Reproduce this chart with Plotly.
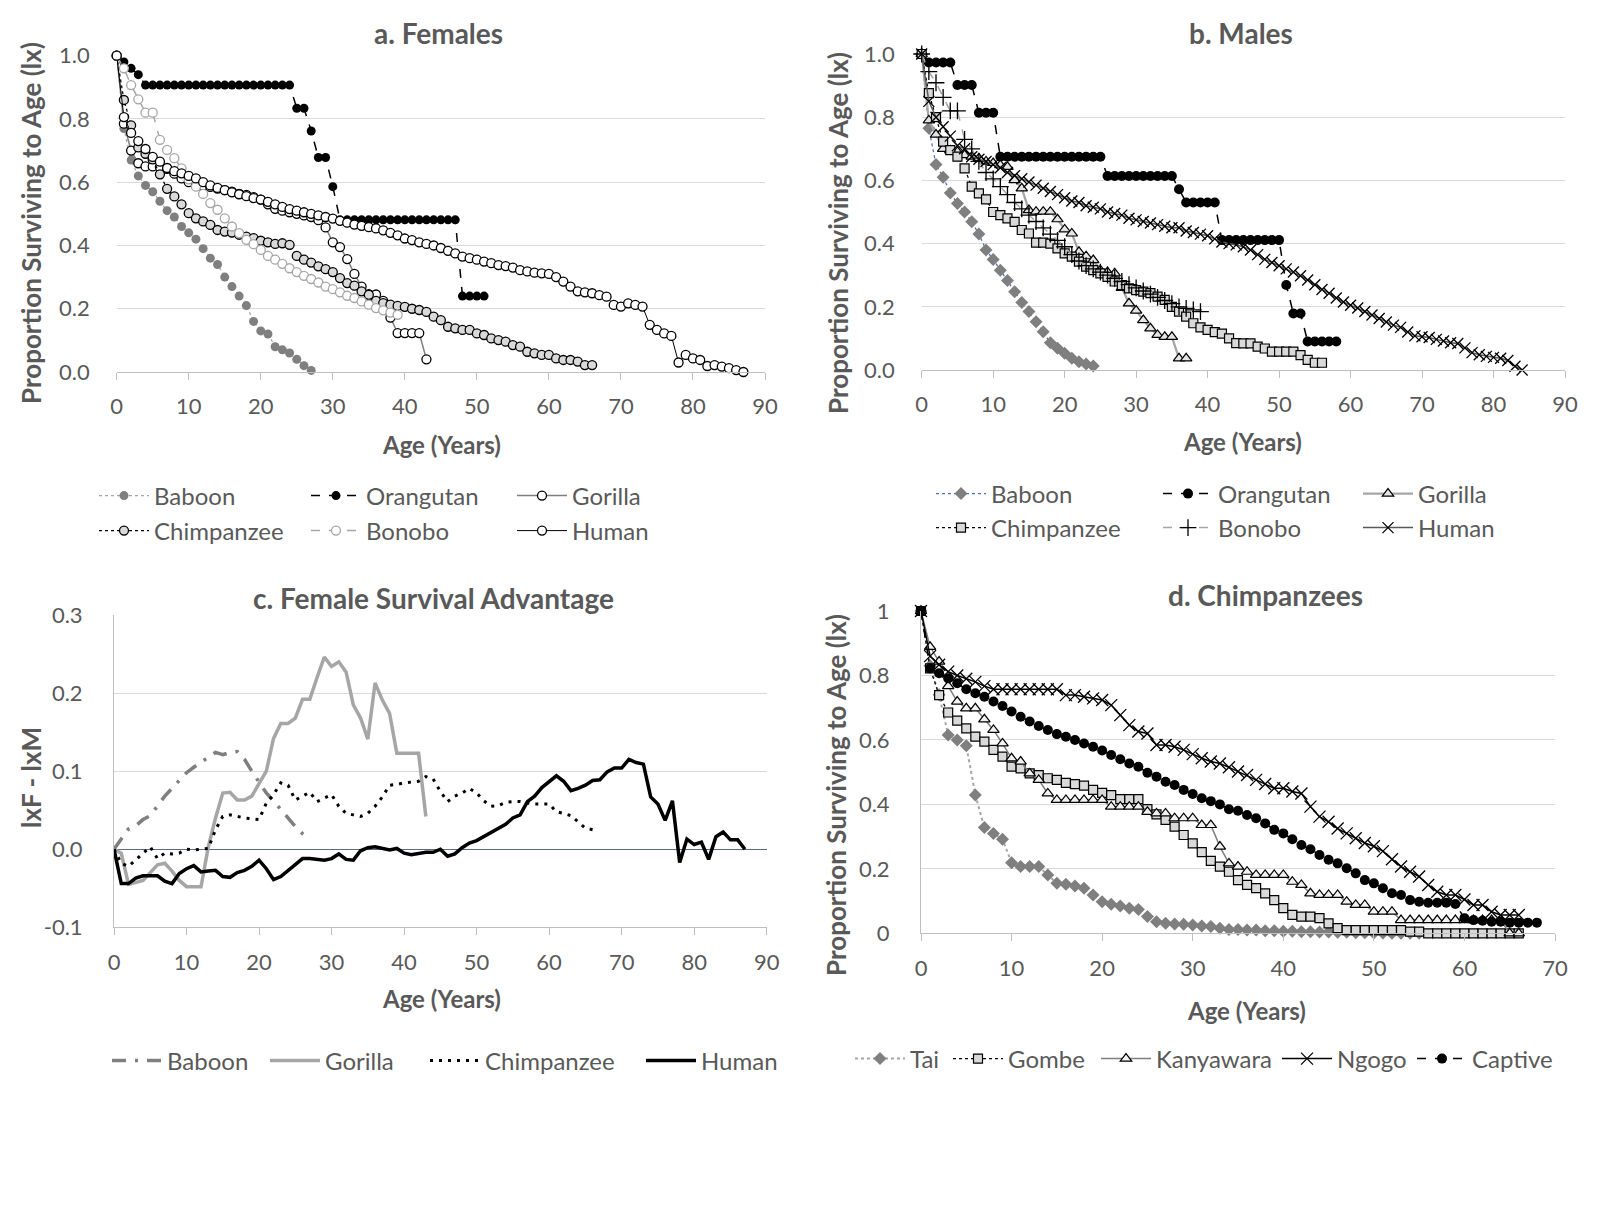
import plotly.graph_objects as go

PAGE_W, PAGE_H = 1599, 1224
BODY = 8                     # default page body margin of the html page
W, H = PAGE_W - 2 * BODY, PAGE_H - 2 * BODY
FONT = "Lato"
TXT = "#595959"

# ---------------- data ----------------
# a. Females  (age = index, years)
f_baboon = [1.0, 0.77, 0.67, 0.62, 0.59, 0.57, 0.54, 0.51, 0.49, 0.46,
            0.44, 0.42, 0.39, 0.36, 0.34, 0.30, 0.27, 0.24, 0.21, 0.16,
            0.13, 0.12, 0.08, 0.07, 0.06, 0.04, 0.02, 0.005]
f_orangutan = [1.0, 0.98, 0.96, 0.94, 0.907, 0.907, 0.907, 0.907, 0.907, 0.907,
               0.907, 0.907, 0.907, 0.907, 0.907, 0.907, 0.907, 0.907, 0.907, 0.907,
               0.907, 0.907, 0.907, 0.907, 0.907, 0.834, 0.834, 0.762, 0.678, 0.678,
               0.586, 0.481, 0.481, 0.481, 0.481, 0.481, 0.481, 0.481, 0.481, 0.481,
               0.481, 0.481, 0.481, 0.481, 0.481, 0.481, 0.481, 0.481, 0.24, 0.24,
               0.24, 0.24]
f_gorilla = [1.0, 0.785, 0.70, 0.66, 0.65, 0.65, 0.648, 0.642, 0.627, 0.612,
             0.60, 0.595, 0.59, 0.585, 0.58, 0.575, 0.57, 0.563, 0.56, 0.553,
             0.545, 0.53, 0.516, 0.51, 0.505, 0.50, 0.495, 0.49, 0.48, 0.457,
             0.41, 0.395, 0.357, 0.31, 0.27, 0.246, 0.245, 0.225, 0.172, 0.123,
             0.123, 0.123, 0.123, 0.04]
f_chimp = [1.0, 0.86, 0.78, 0.71, 0.69, 0.672, 0.625, 0.579, 0.555, 0.53,
           0.502, 0.486, 0.476, 0.465, 0.449, 0.444, 0.441, 0.434, 0.428, 0.423,
           0.415, 0.41, 0.405, 0.407, 0.402, 0.367, 0.355, 0.346, 0.334, 0.325,
           0.316, 0.297, 0.281, 0.273, 0.255, 0.244, 0.225, 0.218, 0.213, 0.209,
           0.206, 0.2, 0.196, 0.19, 0.175, 0.164, 0.143, 0.138, 0.133, 0.133,
           0.122, 0.117, 0.106, 0.101, 0.096, 0.085, 0.08, 0.064, 0.059, 0.054,
           0.054, 0.043, 0.038, 0.038, 0.033, 0.022, 0.022]
f_bonobo = [1.0, 0.96, 0.907, 0.862, 0.82, 0.82, 0.734, 0.702, 0.676, 0.644,
            0.609, 0.586, 0.563, 0.534, 0.513, 0.486, 0.46, 0.439, 0.418, 0.404,
            0.386, 0.367, 0.355, 0.342, 0.328, 0.316, 0.304, 0.294, 0.283, 0.27,
            0.262, 0.252, 0.241, 0.234, 0.223, 0.213, 0.202, 0.195, 0.188, 0.181]
f_human = [1.0, 0.806, 0.756, 0.73, 0.705, 0.68, 0.665, 0.645, 0.635, 0.628,
           0.62, 0.612, 0.60, 0.59, 0.582, 0.575, 0.568, 0.562, 0.556, 0.55,
           0.545, 0.538, 0.53, 0.522, 0.515, 0.51, 0.505, 0.50, 0.495, 0.49,
           0.485, 0.478, 0.472, 0.466, 0.462, 0.458, 0.454, 0.448, 0.44, 0.432,
           0.422, 0.417, 0.41, 0.405, 0.40, 0.392, 0.383, 0.375, 0.365, 0.36,
           0.355, 0.349, 0.344, 0.338, 0.335, 0.33, 0.322, 0.318, 0.314, 0.312,
           0.31, 0.30, 0.286, 0.27, 0.255, 0.252, 0.249, 0.243, 0.238, 0.212,
           0.207, 0.217, 0.212, 0.207, 0.149, 0.133, 0.122, 0.114, 0.03, 0.054,
           0.043, 0.038, 0.019, 0.022, 0.017, 0.012, 0.006, 0.0]

# b. Males
m_baboon = [1.0, 0.765, 0.65, 0.61, 0.56, 0.527, 0.50, 0.469, 0.43, 0.38,
            0.35, 0.316, 0.283, 0.248, 0.214, 0.185, 0.153, 0.121, 0.086, 0.069,
            0.053, 0.037, 0.026, 0.019, 0.013]
m_orangutan = [1.0, 0.973, 0.973, 0.973, 0.973, 0.902, 0.902, 0.902, 0.814, 0.814,
               0.814, 0.675, 0.675, 0.675, 0.675, 0.675, 0.675, 0.675, 0.675, 0.675,
               0.675, 0.675, 0.675, 0.675, 0.675, 0.675, 0.614, 0.614, 0.614, 0.614,
               0.614, 0.614, 0.614, 0.614, 0.614, 0.614, 0.572, 0.53, 0.53, 0.53,
               0.53, 0.53, 0.411, 0.411, 0.411, 0.411, 0.411, 0.411, 0.411, 0.411,
               0.411, 0.269, 0.179, 0.179, 0.09, 0.09, 0.09, 0.09, 0.09]
m_gorilla = [1.0, 0.79, 0.745, 0.70, 0.695, 0.69, 0.68, 0.675, 0.67, 0.66,
             0.655, 0.648, 0.643, 0.601, 0.575, 0.506, 0.501, 0.501, 0.501, 0.477,
             0.445, 0.432, 0.374, 0.36, 0.348, 0.316, 0.31, 0.306, 0.26, 0.211,
             0.188, 0.158, 0.132, 0.111, 0.105, 0.105, 0.037, 0.037]
m_chimp = [1.0, 0.876, 0.80, 0.723, 0.696, 0.675, 0.638, 0.58, 0.559, 0.54,
           0.50, 0.49, 0.48, 0.469, 0.443, 0.432, 0.403, 0.403, 0.40, 0.385,
           0.369, 0.359, 0.343, 0.327, 0.316, 0.306, 0.295, 0.28, 0.269, 0.258,
           0.253, 0.248, 0.243, 0.232, 0.222, 0.20, 0.185, 0.169, 0.148, 0.135,
           0.127, 0.12, 0.115, 0.10, 0.085, 0.084, 0.084, 0.074, 0.068, 0.058,
           0.058, 0.058, 0.058, 0.047, 0.032, 0.023, 0.023]
m_bonobo = [1.0, 0.944, 0.909, 0.863, 0.82, 0.82, 0.73, 0.70, 0.66, 0.625,
            0.605, 0.58, 0.555, 0.53, 0.51, 0.49, 0.47, 0.45, 0.43, 0.41,
            0.39, 0.365, 0.345, 0.33, 0.32, 0.31, 0.30, 0.29, 0.28, 0.27,
            0.26, 0.25, 0.24, 0.23, 0.22, 0.21, 0.20, 0.195, 0.19, 0.185]
m_human = [1.0, 0.85, 0.80, 0.77, 0.74, 0.71, 0.70, 0.675, 0.667, 0.66,
           0.65, 0.64, 0.625, 0.615, 0.605, 0.595, 0.585, 0.575, 0.565, 0.555,
           0.545, 0.535, 0.53, 0.52, 0.515, 0.51, 0.50, 0.495, 0.49, 0.48,
           0.475, 0.47, 0.465, 0.46, 0.455, 0.45, 0.45, 0.44, 0.435, 0.43,
           0.425, 0.415, 0.405, 0.40, 0.396, 0.39, 0.38, 0.365, 0.35, 0.34,
           0.33, 0.32, 0.31, 0.298, 0.285, 0.27, 0.255, 0.243, 0.228, 0.215,
           0.205, 0.196, 0.185, 0.174, 0.163, 0.152, 0.142, 0.135, 0.12, 0.108,
           0.105, 0.103, 0.097, 0.092, 0.086, 0.084, 0.07, 0.055, 0.048, 0.043,
           0.04, 0.037, 0.03, 0.012, 0.0]

# c. Female survival advantage (lxF - lxM)
d_baboon = [0.0, 0.013, 0.026, 0.03, 0.038, 0.043, 0.055, 0.068, 0.078, 0.088,
            0.098, 0.105, 0.111, 0.118, 0.124, 0.121, 0.124, 0.125, 0.115, 0.100,
            0.085, 0.072, 0.062, 0.051, 0.04, 0.029, 0.02, 0.014]
d_gorilla = [0.0, -0.005, -0.045, -0.043, -0.04, -0.03, -0.02, -0.018, -0.028, -0.04,
             -0.048, -0.048, -0.048, 0.003, 0.04, 0.072, 0.073, 0.063, 0.063, 0.068,
             0.085, 0.10, 0.142, 0.161, 0.161, 0.168, 0.192, 0.192, 0.22, 0.246,
             0.234, 0.24, 0.227, 0.185, 0.168, 0.141, 0.213, 0.191, 0.174, 0.123,
             0.123, 0.123, 0.123, 0.042]
d_chimp = [0.0, -0.018, -0.022, -0.014, -0.005, 0.003, -0.012, -0.005, -0.006, -0.005,
           0.0, -0.001, 0.0, 0.001, 0.025, 0.042, 0.044, 0.042, 0.04, 0.039,
           0.038, 0.059, 0.07, 0.085, 0.082, 0.063, 0.068, 0.073, 0.061, 0.065,
           0.07, 0.055, 0.046, 0.044, 0.042, 0.046, 0.055, 0.067, 0.082, 0.083,
           0.085, 0.086, 0.087, 0.093, 0.09, 0.074, 0.061, 0.068, 0.072, 0.078,
           0.072, 0.062, 0.055, 0.056, 0.06, 0.061, 0.061, 0.059, 0.058, 0.058,
           0.058, 0.048, 0.046, 0.043, 0.035, 0.027, 0.025]
d_human = [0.0, -0.044, -0.044, -0.037, -0.034, -0.034, -0.034, -0.041, -0.044, -0.031,
           -0.025, -0.021, -0.029, -0.028, -0.027, -0.035, -0.036, -0.030, -0.027, -0.022,
           -0.014, -0.025, -0.039, -0.035, -0.027, -0.02, -0.012, -0.012, -0.013, -0.014,
           -0.012, -0.006, -0.013, -0.014, -0.002, 0.002, 0.003, 0.001, -0.001, 0.001,
           -0.005, -0.007, -0.005, -0.004, -0.004, 0.0, -0.009, -0.006, 0.002, 0.008,
           0.011, 0.016, 0.021, 0.027, 0.032, 0.04, 0.044, 0.061, 0.068, 0.079,
           0.087, 0.094, 0.087, 0.075, 0.078, 0.082, 0.088, 0.089, 0.099, 0.104,
           0.104, 0.115, 0.111, 0.109, 0.067, 0.058, 0.037, 0.062, -0.017, 0.013,
           0.006, 0.009, -0.013, 0.016, 0.022, 0.012, 0.012, 0.0]

# d. Chimpanzee populations
c_tai = [1.0, 0.83, 0.74, 0.615, 0.60, 0.582, 0.429, 0.328, 0.31, 0.292,
         0.219, 0.207, 0.207, 0.207, 0.181, 0.155, 0.152, 0.147, 0.14, 0.119,
         0.098, 0.09, 0.085, 0.078, 0.074, 0.052, 0.036, 0.031, 0.029, 0.028,
         0.026, 0.023, 0.021, 0.016, 0.012, 0.012, 0.01, 0.01, 0.008, 0.008,
         0.006, 0.006, 0.005, 0.005, 0.004, 0.004, 0.003, 0.003, 0.002, 0.002,
         0.001, 0.001, 0.0, 0.0, 0.0, 0.0]
c_gombe = [1.0, 0.822, 0.739, 0.685, 0.66, 0.636, 0.61, 0.595, 0.569, 0.548,
           0.517, 0.512, 0.496, 0.491, 0.481, 0.476, 0.467, 0.463, 0.458, 0.445,
           0.436, 0.429, 0.416, 0.416, 0.416, 0.385, 0.369, 0.352, 0.331, 0.305,
           0.279, 0.252, 0.225, 0.207, 0.191, 0.165, 0.15, 0.14, 0.124, 0.103,
           0.078, 0.057, 0.052, 0.052, 0.047, 0.031, 0.016, 0.01, 0.01, 0.01,
           0.01, 0.01, 0.01, 0.01, 0.005, 0.005, 0.0, 0.0, 0.0, 0.0,
           0.0, 0.0, 0.0, 0.0, 0.0, 0.0, 0.0]
c_kanyawara = [1.0, 0.889, 0.843, 0.767, 0.719, 0.698, 0.698, 0.664, 0.631, 0.589,
               0.543, 0.533, 0.496, 0.476, 0.434, 0.414, 0.414, 0.414, 0.414, 0.414,
               0.414, 0.393, 0.393, 0.393, 0.393, 0.377, 0.372, 0.372, 0.357, 0.357,
               0.357, 0.336, 0.336, 0.269, 0.217, 0.207, 0.191, 0.181, 0.181, 0.181,
               0.181, 0.16, 0.15, 0.124, 0.119, 0.119, 0.119, 0.098, 0.088, 0.088,
               0.067, 0.067, 0.067, 0.041, 0.041, 0.041, 0.041, 0.041, 0.041, 0.041,
               0.041, 0.041, 0.041, 0.041, 0.041, 0.0, 0.0]
c_ngogo = [1.0, 0.86, 0.833, 0.812, 0.80, 0.79, 0.78, 0.767, 0.757, 0.757,
           0.757, 0.757, 0.757, 0.757, 0.757, 0.757, 0.739, 0.739, 0.734, 0.729,
           0.724, 0.708, 0.677, 0.646, 0.626, 0.62, 0.584, 0.584, 0.579, 0.569,
           0.556, 0.543, 0.533, 0.527, 0.515, 0.502, 0.491, 0.476, 0.463, 0.45,
           0.45, 0.44, 0.434, 0.393, 0.362, 0.346, 0.325, 0.31, 0.295, 0.28,
           0.27, 0.255, 0.23, 0.207, 0.191, 0.176, 0.15, 0.129, 0.119, 0.119,
           0.105, 0.088, 0.088, 0.067, 0.057, 0.057, 0.057]
c_captive = [1.0, 0.822, 0.807, 0.791, 0.776, 0.757, 0.745, 0.734, 0.719, 0.705,
             0.688, 0.672, 0.657, 0.643, 0.631, 0.618, 0.61, 0.60, 0.589, 0.579,
             0.567, 0.553, 0.54, 0.527, 0.517, 0.498, 0.486, 0.47, 0.46, 0.445,
             0.432, 0.419, 0.41, 0.40, 0.385, 0.38, 0.367, 0.357, 0.341, 0.321,
             0.31, 0.292, 0.274, 0.261, 0.243, 0.228, 0.217, 0.202, 0.186, 0.165,
             0.155, 0.14, 0.124, 0.119, 0.103, 0.098, 0.095, 0.095, 0.095, 0.091,
             0.047, 0.041, 0.039, 0.036, 0.036, 0.033, 0.033, 0.033, 0.033]

# tick labels
surv_ticks = [0, 0.2, 0.4, 0.6, 0.8, 1.0]
surv_labels_ab = ["0.0", "0.2", "0.4", "0.6", "0.8", "1.0"]
surv_labels_d = ["0", "0.2", "0.4", "0.6", "0.8", "1"]
adv_ticks = [-0.1, 0.0, 0.1, 0.2, 0.3]
adv_labels = ["-0.1", "0.0", "0.1", "0.2", "0.3"]
age_ticks_90 = [0, 10, 20, 30, 40, 50, 60, 70, 80, 90]
age_ticks_70 = [0, 10, 20, 30, 40, 50, 60, 70]

# ---------------- figure ----------------
fig = go.Figure()
ITEMW = 50


def add(vals, name, axis, legend, pitch, line, marker=None):
    xa, ya = axis
    fig.add_trace(go.Scatter(
        x=list(range(len(vals))), y=vals, name=name,
        mode="lines+markers" if marker else "lines",
        xaxis=xa, yaxis=ya, line=line, marker=marker,
        legend=legend, legendwidth=max(pitch - ITEMW - 15, 1),
        cliponaxis=False, hoverinfo="skip"))


def mk(symbol, size, color, lc=None, lw=0):
    return dict(symbol=symbol, size=size, color=color,
                line=dict(color=lc or color, width=lw))


A = ("x", "y"); B = ("x2", "y2"); C = ("x3", "y3"); D = ("x4", "y4")
LAST = 260

# panel a
add(f_baboon, "Baboon", A, "legend", 212, dict(color="#a6a6a6", width=1.25, dash="dot"),
    mk("circle", 9, "#7f7f7f"))
add(f_orangutan, "Orangutan", A, "legend", 206, dict(color="black", width=1.5, dash="dash"),
    mk("circle", 9, "black"))
add(f_gorilla, "Gorilla", A, "legend", LAST, dict(color="#7f7f7f", width=1.5),
    mk("circle", 9, "white", "black", 1.3))
add(f_chimp, "Chimpanzee", A, "legend2", 212, dict(color="black", width=1.25, dash="dot"),
    mk("circle", 9, "#d9d9d9", "black", 1.3))
add(f_bonobo, "Bonobo", A, "legend2", 206, dict(color="#a6a6a6", width=1.5, dash="dash"),
    mk("circle", 9, "white", "#a6a6a6", 1.3))
add(f_human, "Human", A, "legend2", LAST, dict(color="black", width=1),
    mk("circle", 9, "white", "black", 1.3))

# panel b
add(m_baboon, "Baboon", B, "legend3", 227, dict(color="#4472c4", width=1.25, dash="dot"),
    mk("diamond", 10, "#7f7f7f"))
add(m_orangutan, "Orangutan", B, "legend3", 200, dict(color="black", width=1.5, dash="dash"),
    mk("circle", 10, "black"))
add(m_gorilla, "Gorilla", B, "legend3", LAST, dict(color="#a6a6a6", width=2.25),
    mk("triangle-up", 10, "#e4e4e4", "black", 1.2))
add(m_chimp, "Chimpanzee", B, "legend4", 227, dict(color="black", width=1.25, dash="dot"),
    mk("square", 9, "#d9d9d9", "black", 1.2))
add(m_bonobo, "Bonobo", B, "legend4", 200, dict(color="#a6a6a6", width=1.5, dash="dash"),
    mk("cross-thin", 12, "black", "black", 1.3))
add(m_human, "Human", B, "legend4", LAST, dict(color="#595959", width=1.5),
    mk("x-thin", 11, "black", "black", 1.3))

# panel c
add(d_baboon, "Baboon", C, "legend5", 158, dict(color="#7f7f7f", width=3.5, dash="14px,9px,3px,9px"))
add(d_gorilla, "Gorilla", C, "legend5", 160, dict(color="#a6a6a6", width=3.5))
add(d_chimp, "Chimpanzee", C, "legend5", 216, dict(color="black", width=3, dash="3px,6px"))
add(d_human, "Human", C, "legend5", LAST, dict(color="black", width=3.5))

# panel d
add(c_tai, "Tai", D, "legend6", 98, dict(color="#a6a6a6", width=2, dash="dot"),
    mk("diamond", 10, "#7f7f7f"))
add(c_gombe, "Gombe", D, "legend6", 148, dict(color="black", width=1.25, dash="dot"),
    mk("square", 9, "#d9d9d9", "black", 1.2))
add(c_kanyawara, "Kanyawara", D, "legend6", 181, dict(color="#7f7f7f", width=1.5),
    mk("triangle-up", 10, "#f2f2f2", "black", 1.2))
add(c_ngogo, "Ngogo", D, "legend6", 135, dict(color="black", width=1.5),
    mk("x-thin", 12, "black", "black", 1.3))
add(c_captive, "Captive", D, "legend6", LAST, dict(color="black", width=1.5, dash="dash"),
    mk("circle", 10, "black"))

# ---------------- layout ----------------
def px(x):
    return (x - BODY) / W


def py(y):
    return 1 - (y - BODY) / H


tickfont = dict(family=FONT, size=22, color=TXT)


def xaxis(dom, anchor, ticks, rng):
    return dict(domain=dom, anchor=anchor, range=rng, tickvals=ticks,
                showgrid=False, zeroline=False, showline=True, linecolor="#bfbfbf",
                linewidth=1, ticks="outside", ticklen=7, tickcolor="#bfbfbf",
                tickfont=tickfont, ticklabelstandoff=8, fixedrange=True,
                automargin=False)


def yaxis(dom, anchor, rng, tv, tt, line=False, zero=False):
    return dict(domain=dom, anchor=anchor, range=rng, tickvals=tv, ticktext=tt,
                showgrid=True, gridcolor="#d9d9d9", gridwidth=1,
                zeroline=zero, zerolinecolor="#5b6b80", zerolinewidth=1,
                showline=line, linecolor="#bfbfbf", linewidth=1, ticks="",
                tickfont=tickfont, ticklabelstandoff=26, fixedrange=True,
                automargin=False)


layout = dict(
    width=W, height=H, margin=dict(l=0, r=0, t=0, b=0, autoexpand=False),
    paper_bgcolor="white", plot_bgcolor="white", showlegend=True,
    font=dict(family=FONT, color=TXT),
    xaxis=xaxis([px(116.7), px(765)], "y", age_ticks_90, [0, 90]),
    yaxis=yaxis([py(372), py(55.7)], "x", [0, 1], surv_ticks, surv_labels_ab),
    xaxis2=xaxis([px(921.7), px(1565)], "y2", age_ticks_90, [0, 90]),
    yaxis2=yaxis([py(370), py(54)], "x2", [0, 1], surv_ticks, surv_labels_ab),
    xaxis3=xaxis([px(114), px(766.7)], "y3", age_ticks_90, [0, 90]),
    yaxis3=yaxis([py(927.3), py(615)], "x3", [-0.1, 0.3], adv_ticks, adv_labels, line=True, zero=True),
    xaxis4=xaxis([px(921), px(1555)], "y4", age_ticks_70, [0, 70]),
    yaxis4=yaxis([py(933.3), py(611)], "x4", [0, 1], surv_ticks, surv_labels_d, line=True),
)

legfont = dict(family=FONT, size=24, color=TXT)


def leg(x, y):
    return dict(orientation="h", x=px(x), y=py(y), xanchor="left", yanchor="middle",
                xref="paper", yref="paper", font=legfont, itemwidth=ITEMW,
                bgcolor="rgba(0,0,0,0)", borderwidth=0, traceorder="normal",
                entrywidthmode="pixels", itemsizing="trace")


layout["legend"] = leg(94, 496)
layout["legend2"] = leg(94, 531)
layout["legend3"] = leg(931, 494)
layout["legend4"] = leg(931, 528)
layout["legend5"] = leg(107, 1061)
layout["legend6"] = leg(850, 1059)

fig.update_layout(**layout)

# titles and axis titles
def note(text, x, y, size, angle=0):
    fig.add_annotation(text=text, x=px(x), y=py(y), xref="paper", yref="paper",
                       showarrow=False, xanchor="center", yanchor="middle",
                       textangle=angle,
                       font=dict(family=FONT, size=size, color=TXT, weight="bold"))


note("a. Females", 438.5, 33, 28)
note("b. Males", 1241, 33, 28)
note("c. Female Survival Advantage", 433, 598, 28)
note("d. Chimpanzees", 1265.6, 595, 28)
note("Age (Years)", 441, 445, 24)
note("Age (Years)", 1242, 441, 24)
note("Age (Years)", 441, 998, 24)
note("Age (Years)", 1246, 1010, 24)
note("Proportion Surviving to Age (lx)", 31, 223, 26, -90)
note("Proportion Surviving to Age (lx)", 838, 233, 26, -90)
note("lxF - lxM", 31, 778, 26, -90)
note("Proportion Surviving to Age (lx)", 836, 795, 26, -90)

fig.write_html("out.html")
